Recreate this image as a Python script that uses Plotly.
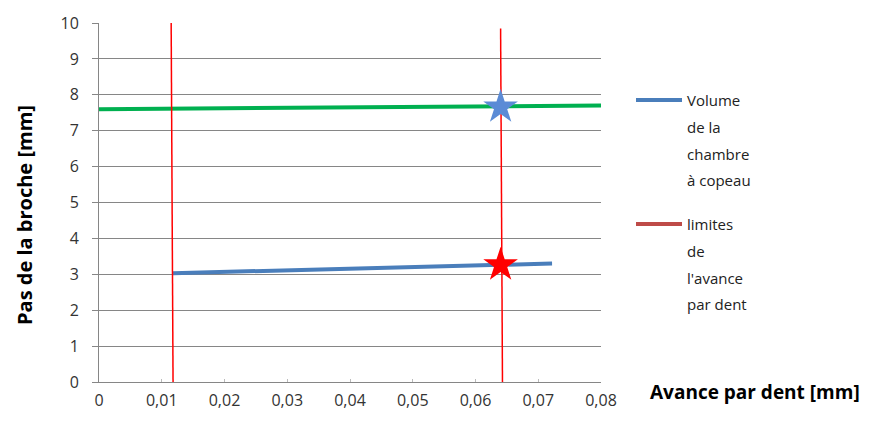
import plotly.graph_objects as go

# Data
green_x = [0.0, 0.08]
green_y = [7.6, 7.7]
volume_x = [0.0118, 0.0722]
volume_y = [3.03, 3.3]
limit1_x = [0.0115, 0.0118]
limit1_y = [10.0, 0.0]
limit2_x = [0.0640, 0.0643]
limit2_y = [9.85, 0.0]
star_x = [0.064]
star_blue_y = [7.66]
star_red_y = [3.26]
x_ticks = [0, 0.01, 0.02, 0.03, 0.04, 0.05, 0.06, 0.07, 0.08]
x_ticktext = ["0", "0,01", "0,02", "0,03", "0,04", "0,05", "0,06", "0,07", "0,08"]
y_ticks = list(range(0, 11))
legend_volume = ["Volume", "de la", "chambre", "à copeau"]
legend_limits = ["limites", "de", "l'avance", "par dent"]

font = "Open Sans, Liberation Sans, sans-serif"

W, H = 873, 421
L, R, T, B = 91, 280, 15, 47
PW, PH = W - L - R, H - T - B


def px(xp):
    return (xp - L) / PW


def py(yp):
    return (H - B - yp) / PH


fig = go.Figure()
fig.add_trace(go.Scatter(x=green_x, y=green_y, mode="lines",
                         line=dict(color="#00b050", width=4)))
fig.add_trace(go.Scatter(x=volume_x, y=volume_y, mode="lines",
                         line=dict(color="#4a7ebb", width=4)))
fig.add_trace(go.Scatter(x=limit1_x, y=limit1_y, mode="lines",
                         line=dict(color="#ff0000", width=1.5)))
fig.add_trace(go.Scatter(x=limit2_x, y=limit2_y, mode="lines",
                         line=dict(color="#ff0000", width=1.5)))
fig.add_trace(go.Scatter(x=star_x, y=star_blue_y, mode="markers",
                         marker=dict(symbol="star", size=26, color="#5b8bd6")))
fig.add_trace(go.Scatter(x=star_x, y=star_red_y, mode="markers",
                         marker=dict(symbol="star", size=26, color="#ff0000")))

shapes = []
annotations = []
legend_items = [(legend_volume, "#4a7ebb", 92), (legend_limits, "#be4b48", 216)]
for lines, color, y0 in legend_items:
    shapes.append(dict(type="line", xref="paper", yref="paper",
                       x0=px(628), x1=px(674), y0=py(y0), y1=py(y0),
                       line=dict(color=color, width=4)))
    for i, t in enumerate(lines):
        annotations.append(dict(text=t, xref="paper", yref="paper",
                                x=px(677), y=py(y0 + i * 26.8),
                                xanchor="left", yanchor="middle", showarrow=False,
                                font=dict(family=font, size=15, color="#222222")))

annotations.append(dict(text="<b>Avance par dent [mm]</b>", xref="paper", yref="paper",
                        x=px(640), y=py(384), xanchor="left", yanchor="middle",
                        showarrow=False, font=dict(family=font, size=19, color="black")))
annotations.append(dict(text="<b>Pas de la broche [mm]</b>", xref="paper", yref="paper",
                        x=px(17), y=py(207), xanchor="center", yanchor="middle",
                        textangle=-90, showarrow=False,
                        font=dict(family=font, size=20, color="black")))

fig.update_layout(
    width=W, height=H,
    margin=dict(l=L, r=R, t=T, b=B, autoexpand=False),
    paper_bgcolor="white", plot_bgcolor="white",
    font=dict(family=font, size=16, color="#333333"),
    showlegend=False,
    shapes=shapes,
    annotations=annotations,
)
fig.update_xaxes(range=[0, 0.08], tickvals=x_ticks, ticktext=x_ticktext,
                 showgrid=False, showline=True, linecolor="#868686",
                 ticks="inside", ticklen=3, tickcolor="#bbbbbb", zeroline=False,
                 ticklabelstandoff=4)
fig.update_yaxes(range=[0, 10], tickvals=y_ticks, showgrid=True, gridcolor="#868686",
                 gridwidth=1, showline=True, linecolor="#868686", ticks="outside",
                 ticklen=6, tickcolor="#868686", zeroline=False,
                 ticklabelstandoff=10)

fig.write_html("out.html")
